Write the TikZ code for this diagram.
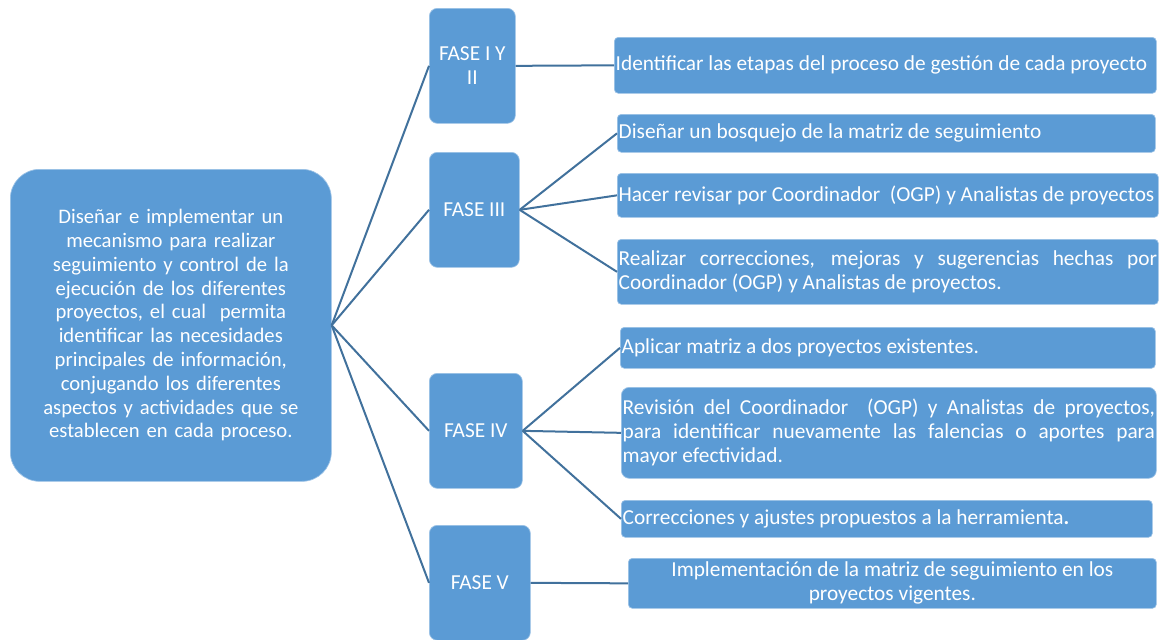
\documentclass[tikz,border=0pt]{standalone}
\usepackage{fontspec}
\setmainfont{Carlito}
\usetikzlibrary{positioning}

\definecolor{boxblue}{RGB}{91,155,213}
\definecolor{linkblue}{RGB}{65,113,156}

\tikzset{
  box/.style={draw=white!40!boxblue, line width=0.5pt, fill=boxblue, text=white,
    anchor=north west, font=\fontsize{16}{18}\selectfont},
  mainbox/.style={box, rounded corners=22pt, align=center, inner sep=0pt,
    font=\fontsize{15.5}{17.85}\selectfont},
  fasebox/.style={box, rounded corners=6pt, align=center, inner sep=0pt},
  taskbox/.style={box, rounded corners=3pt, inner xsep=1pt, inner ysep=0pt,
    execute at begin node={\hyphenpenalty=10000\relax}},
  link/.style={draw=linkblue, line width=1.5pt}
}

\begin{document}
\begin{tikzpicture}[x=0.75pt,y=-0.75pt]
  \useasboundingbox (0,0) rectangle (1169,639);

  \node[mainbox, minimum width=240.75pt, minimum height=234pt, text width=212pt] (objetivo) at (10,169)
    {Diseñar e implementar un mecanismo para realizar seguimiento y control de la ejecución de los diferentes proyectos, el cual\ \ permita identificar las necesidades principales de información, conjugando los diferentes aspectos y actividades que se establecen en cada proceso.};

  \node[fasebox, minimum width=64.5pt, minimum height=86.25pt] (faseI) at (429,8) {FASE I Y\\II};
  \node[fasebox, minimum width=67.5pt, minimum height=86.25pt] (faseIII) at (429,152) {FASE III};
  \node[fasebox, minimum width=69.75pt, minimum height=86.25pt] (faseIV) at (429,373) {FASE IV};
  \node[fasebox, minimum width=75.75pt, minimum height=86.25pt] (faseV) at (429,525) {FASE V};

  \node[taskbox, minimum width=406.5pt, minimum height=42pt, text width=404.5pt, align=flush left] (identificar) at (614,37)
    {Identificar las etapas del proceso de gestión de cada proyecto};
  \node[taskbox, minimum width=403.5pt, minimum height=28.5pt, text width=401.5pt, align=flush left] (bosquejo) at (617,114)
    {Diseñar un bosquejo de la matriz de seguimiento};
  \node[taskbox, minimum width=405.75pt, minimum height=33pt, text width=403.75pt, align=flush left] (revisar) at (617,173)
    {Hacer revisar por Coordinador\ \ (OGP) y Analistas de proyectos};
  \node[taskbox, minimum width=405.75pt, minimum height=48.75pt, text width=403.75pt, align=justify] (realizar) at (617,239)
    {Realizar correcciones, mejoras y sugerencias hechas por\linebreak Coordinador (OGP) y Analistas de proyectos.};
  \node[taskbox, minimum width=401.25pt, minimum height=30.75pt, text width=399.25pt, align=flush left] (aplicar) at (620,327)
    {Aplicar matriz a dos proyectos existentes.};
  \node[taskbox, rounded corners=6pt, minimum width=401.25pt, minimum height=68.25pt, text width=399.25pt, align=justify] (revision) at (621,387)
    {Revisión del Coordinador\ \ (OGP) y Analistas de proyectos,\linebreak para identificar nuevamente las falencias o aportes para\linebreak mayor efectividad.};
  \node[taskbox, minimum width=398.25pt, minimum height=27.75pt, text width=396.25pt, align=flush left] (correcciones) at (621,500)
    {Correcciones y ajustes propuestos a la herramienta\textbf{.}};
  \node[taskbox, minimum width=396pt, minimum height=37.5pt, text width=394pt, align=flush center] (implementacion) at (628,558)
    {Implementación de la matriz de seguimiento en los\\proyectos vigentes.};

  % objetivo -> fases
  \draw[link] (objetivo.east) -- (faseI.west);
  \draw[link] (objetivo.east) -- (faseIII.west);
  \draw[link] (objetivo.east) -- (faseIV.west);
  \draw[link] (objetivo.east) -- (faseV.west);

  % fases -> actividades
  \draw[link] (faseI.east) -- (identificar.west);
  \draw[link] (faseIII.east) -- (bosquejo.west);
  \draw[link] (faseIII.east) -- (revisar.west);
  \draw[link] (faseIII.east) -- (realizar.west);
  \draw[link] (faseIV.east) -- (aplicar.west);
  \draw[link] (faseIV.east) -- (revision.west);
  \draw[link] (faseIV.east) -- (correcciones.west);
  \draw[link] (faseV.east) -- (implementacion.west);
\end{tikzpicture}
\end{document}
